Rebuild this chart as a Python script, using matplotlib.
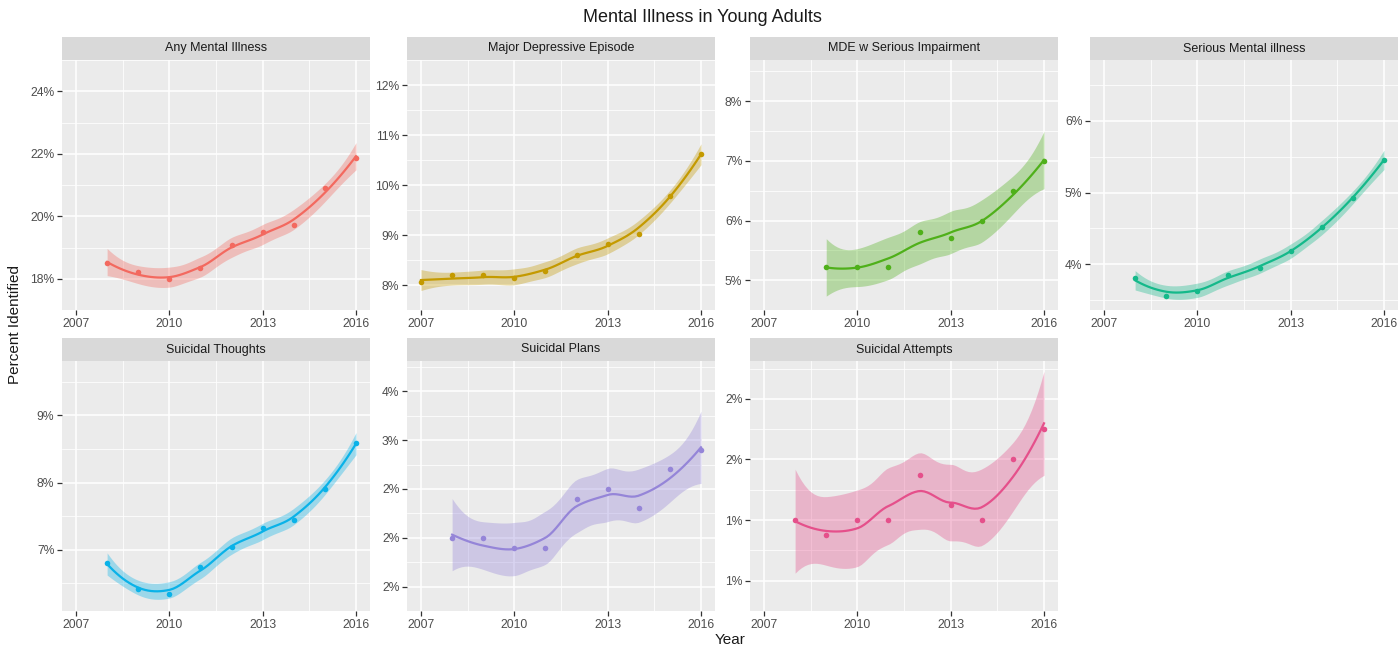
import math
import numpy as np
import matplotlib
matplotlib.use('Agg')
import matplotlib.pyplot as plt

plt.rcParams['font.family'] = ['Liberation Sans', 'DejaVu Sans']

# --- data (percent of young adults) ---
titles = ['Any Mental Illness', 'Major Depressive Episode', 'MDE w Serious Impairment',
          'Serious Mental illness', 'Suicidal Thoughts', 'Suicidal Plans', 'Suicidal Attempts']
years_ami = [2008, 2009, 2010, 2011, 2012, 2013, 2014, 2015, 2016]
years_mde = [2007, 2008, 2009, 2010, 2011, 2012, 2013, 2014, 2015, 2016]
years_mdesi = [2009, 2010, 2011, 2012, 2013, 2014, 2015, 2016]
ami = [18.5, 18.23, 18.0, 18.33, 19.07, 19.49, 19.73, 20.89, 21.88]
mde = [8.06, 8.2, 8.2, 8.14, 8.29, 8.61, 8.82, 9.02, 9.79, 10.62]
mde_si = [5.22, 5.22, 5.22, 5.81, 5.70, 5.99, 6.49, 6.99]
smi = [3.8, 3.55, 3.63, 3.85, 3.95, 4.18, 4.52, 4.92, 5.46]
thoughts = [6.8, 6.42, 6.35, 6.74, 7.04, 7.32, 7.45, 7.91, 8.59]
plans = [2.0, 2.0, 1.9, 1.9, 2.4, 2.5, 2.3, 2.7, 2.9]
attempts = [1.2, 1.1, 1.2, 1.2, 1.5, 1.3, 1.2, 1.6, 1.8]

series = [(years_ami, ami), (years_mde, mde), (years_mdesi, mde_si), (years_ami, smi),
          (years_ami, thoughts), (years_ami, plans), (years_ami, attempts)]
colors = ['#F3695F', '#C49A00', '#4FB01A', '#14B98A', '#0AB2E8', '#9585D8', '#E5508B']

# axis setup per panel
y_limits = [(17.48, 24.25), (7.69, 12.21), (4.54, 8.69), (3.36, 6.85),
            (6.09, 9.81), (1.52, 3.81), (0.78, 2.25)]
y_ticks = [[18, 20, 22, 24], [8, 9, 10, 11, 12], [5, 6, 7, 8], [4, 5, 6],
           [7, 8, 9], [1.5, 2, 2.5, 3, 3.5], [0.8, 1.2, 1.6, 2.0]]
y_labels = [None, None, None, None, None,
            ['2%', '2%', '2%', '3%', '4%'], ['1%', '1%', '2%', '2%']]
x_ticks = [2007, 2010, 2013, 2016]


def loess(x, y, xs, span=0.75):
    # local quadratic fit, tricube weights, evaluated at the data points
    # and joined by cubic Hermite interpolation (roughly what R's loess does)
    n = len(x)
    q = int(math.floor(n * span))

    def op(x0):
        d = np.abs(x - x0)
        h = np.sort(d)[q - 1] * 1.0001
        w = np.clip(1 - (d / h) ** 3, 0, None) ** 3
        X = np.column_stack([np.ones(n), x - x0, (x - x0) ** 2])
        XtW = X.T * w
        A = np.linalg.solve(XtW @ X, XtW)
        return A[0], A[1]

    V = np.array([op(v)[0] for v in x])
    D = np.array([op(v)[1] for v in x])
    R = np.eye(n) - V
    RR = R.T @ R
    d1 = np.trace(RR)
    d2 = np.trace(RR @ RR)
    sigma = math.sqrt(np.sum((y - V @ y) ** 2) / d1)

    Ls = []
    for v in xs:
        k = min(np.searchsorted(x, v, side='right') - 1, n - 2)
        hk = x[k + 1] - x[k]
        t = (v - x[k]) / hk
        h00 = 2 * t ** 3 - 3 * t ** 2 + 1
        h10 = t ** 3 - 2 * t ** 2 + t
        h01 = -2 * t ** 3 + 3 * t ** 2
        h11 = t ** 3 - t ** 2
        Ls.append(h00 * V[k] + h10 * hk * D[k] + h01 * V[k + 1] + h11 * hk * D[k + 1])
    Ls = np.array(Ls)
    fit = Ls @ y
    se = sigma * np.sqrt(np.sum(Ls ** 2, axis=1))
    return fit, se, d1 ** 2 / d2


def t_quantile(p, df):
    g = np.linspace(0, 40, 80001)
    c = math.gamma((df + 1) / 2) / (math.sqrt(df * math.pi) * math.gamma(df / 2))
    pdf = c * (1 + g ** 2 / df) ** (-(df + 1) / 2)
    cdf = 0.5 + np.concatenate([[0], np.cumsum((pdf[1:] + pdf[:-1]) / 2 * np.diff(g))])
    return float(np.interp(p, cdf, g))


W, H = 1400, 648
fig = plt.figure(figsize=(14, 6.48), dpi=100)


def px_axes(x0, top, w, h):
    return fig.add_axes([x0 / W, 1 - (top + h) / H, w / W, h / H])


lefts = [62, 407, 750, 1090]
tops = [37, 338]
pw, strip_h, ph = 308, 23, 250

for i in range(7):
    r, c = divmod(i, 4)
    x0, top = lefts[c], tops[r]

    sax = px_axes(x0, top, pw, strip_h)
    sax.set_facecolor('#D9D9D9')
    sax.set_xticks([])
    sax.set_yticks([])
    for s in sax.spines.values():
        s.set_visible(False)
    sax.text(0.5, 0.5, titles[i], ha='center', va='center', fontsize=9, color='#1A1A1A',
             transform=sax.transAxes)

    ax = px_axes(x0, top + strip_h, pw, ph)
    ax.set_facecolor('#EBEBEB')
    for s in ax.spines.values():
        s.set_visible(False)
    ax.set_axisbelow(True)

    xv = np.array(series[i][0], dtype=float)
    yv = np.array(series[i][1], dtype=float)
    xs = np.linspace(xv.min(), xv.max(), 80)
    fit, se, df = loess(xv, yv, xs)
    tq = t_quantile(0.975, df)
    col = colors[i]
    ax.fill_between(xs, fit - tq * se, fit + tq * se, color=col, alpha=0.35, lw=0)
    ax.plot(xs, fit, color=col, lw=1.6)
    ax.plot(xv, yv, 'o', color=col, ms=4, mew=0)

    ax.set_xlim(2006.55, 2016.45)
    ax.set_ylim(*y_limits[i])
    ax.set_xticks(x_ticks)
    ax.set_xticklabels([str(v) for v in x_ticks])
    yt = y_ticks[i]
    ax.set_yticks(yt)
    if y_labels[i] is None:
        ax.set_yticklabels(['%d%%' % v for v in yt])
    else:
        ax.set_yticklabels(y_labels[i])
    step = yt[1] - yt[0]
    ax.set_yticks([yt[0] - step / 2] + [v + step / 2 for v in yt], minor=True)
    ax.set_xticks([2008.5, 2011.5, 2014.5], minor=True)
    ax.grid(which='major', color='white', lw=1.1)
    ax.grid(which='minor', color='white', lw=0.55)
    ax.tick_params(which='major', length=3.5, width=0.9, color='#333333',
                   labelsize=8.7, labelcolor='#4D4D4D', pad=2)
    ax.tick_params(which='minor', length=0)

fig.text(702 / W, 1 - 18 / H, 'Mental Illness in Young Adults', ha='center', va='center',
         fontsize=13, color='#1A1A1A')
fig.text(730 / W, 1 - 640 / H, 'Year', ha='center', va='center', fontsize=11, color='#1A1A1A')
fig.text(15 / W, 1 - 324 / H, 'Percent Identified', ha='center', va='center', rotation=90,
         fontsize=11, color='#1A1A1A')

fig.savefig('out.png', dpi=100)
